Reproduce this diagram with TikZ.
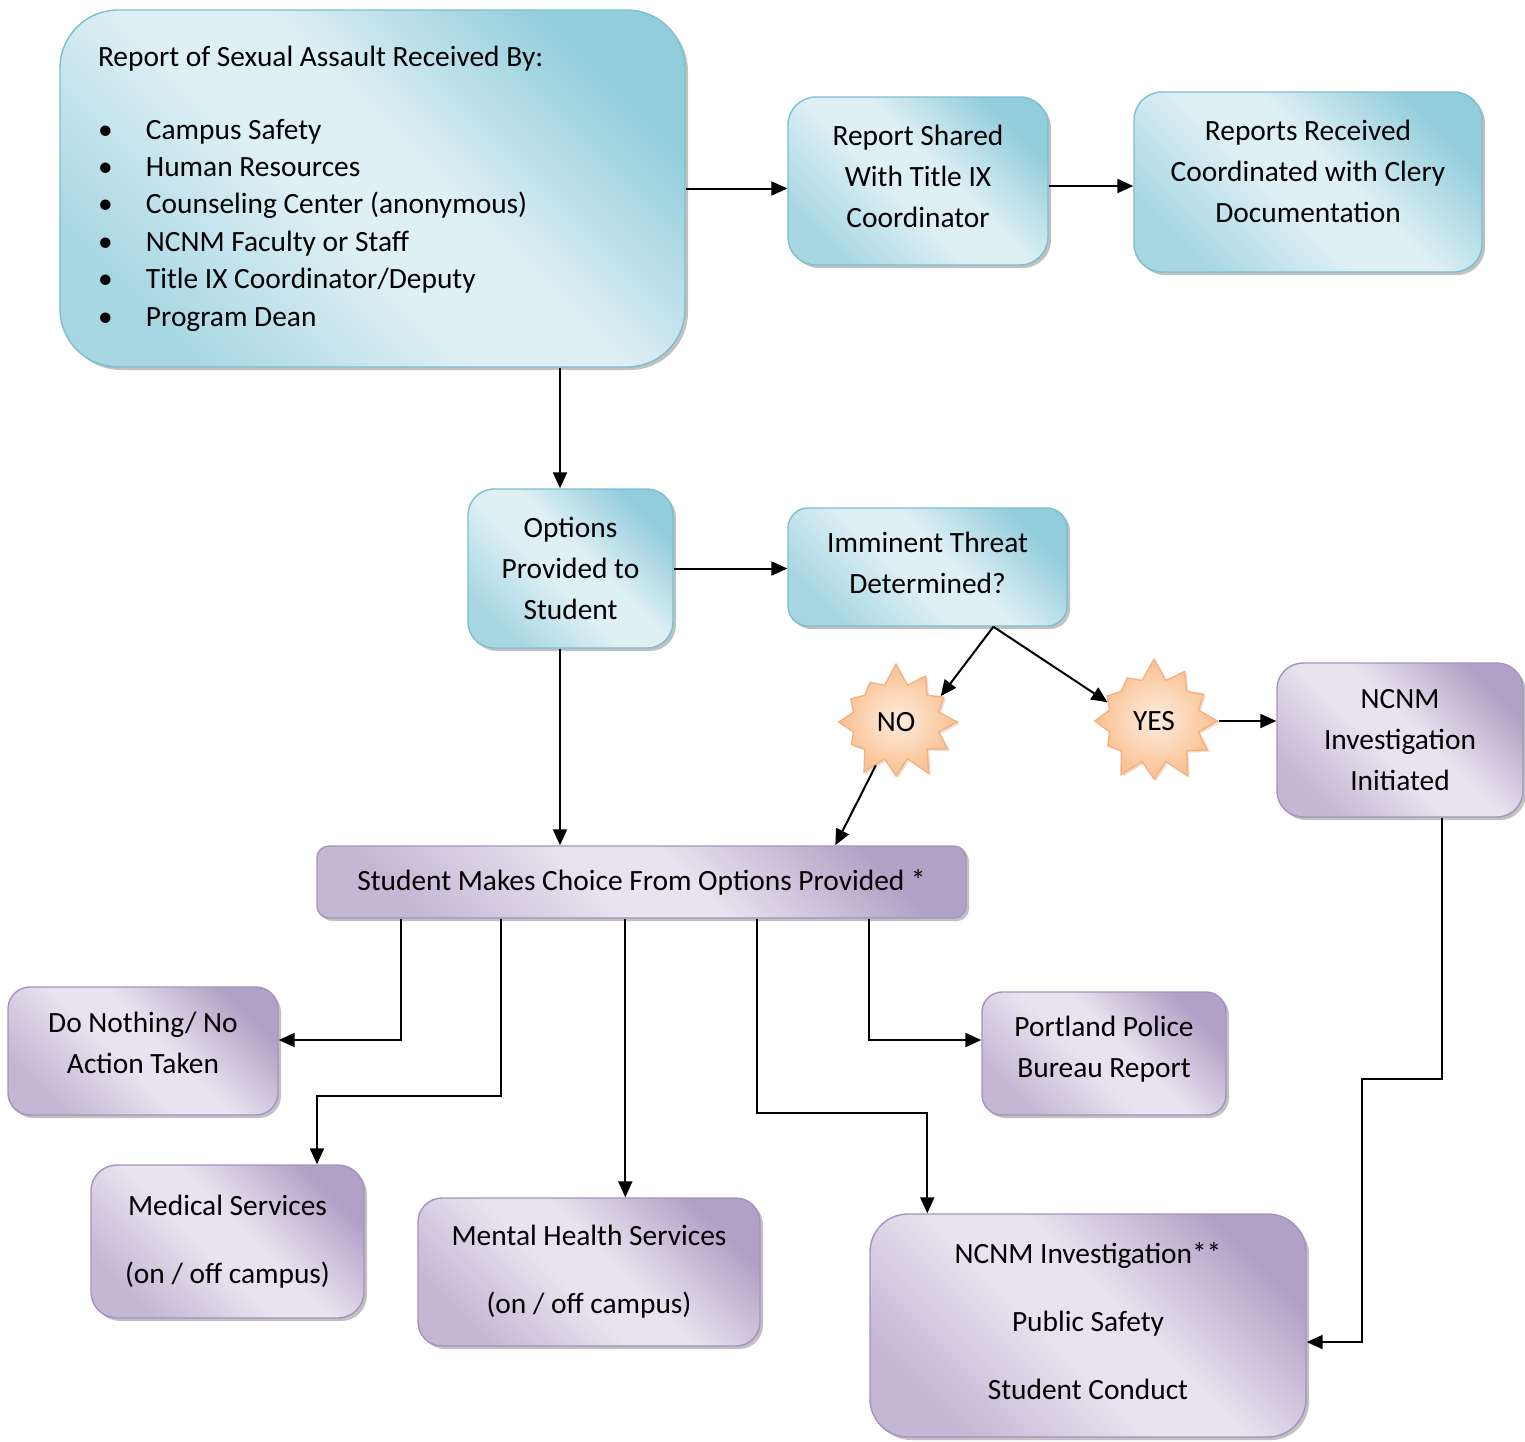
\documentclass[tikz,border=0pt]{standalone}
\usepackage{fontspec}
\setmainfont{Carlito}
\usetikzlibrary{arrows.meta,shapes.symbols,shadows,calc}

\definecolor{bluedark}{RGB}{146,205,220}
\definecolor{bluemid}{RGB}{168,215,228}
\definecolor{bluelight}{RGB}{223,240,245}
\definecolor{blueline}{RGB}{125,190,207}
\definecolor{purpledark}{RGB}{178,161,199}
\definecolor{purplemid}{RGB}{196,183,213}
\definecolor{purplelight}{RGB}{232,227,239}
\definecolor{purpleline}{RGB}{165,146,190}
\definecolor{peachdark}{RGB}{250,192,144}
\definecolor{peachlight}{RGB}{253,236,222}
\definecolor{peachline}{RGB}{244,177,131}

\pgfdeclarehorizontalshading{blueglass}{100bp}{color(0bp)=(bluemid); color(25bp)=(bluemid); color(45bp)=(bluelight); color(55bp)=(bluelight); color(75bp)=(bluedark); color(100bp)=(bluedark)}
\pgfdeclarehorizontalshading{purpleglass}{100bp}{color(0bp)=(purplemid); color(25bp)=(purplemid); color(45bp)=(purplelight); color(55bp)=(purplelight); color(75bp)=(purpledark); color(100bp)=(purpledark)}

\begin{document}
\begin{tikzpicture}[x=0.5pt, y=-0.5pt, >={Triangle[length=8pt,width=7pt]},
  font=\fontsize{14.7}{20.5}\selectfont]
	\tikzstyle{box} = [draw, line width=0.7pt, align=center, inner sep=0pt, shading angle=45,
	  drop shadow={shadow xshift=1.5pt, shadow yshift=-1.5pt, opacity=0.35, fill=black!70}]
	\tikzstyle{bluebox} = [box, draw=blueline, shading=blueglass]
	\tikzstyle{purplebox} = [box, draw=purpleline, shading=purpleglass]
	\tikzstyle{burst} = [starburst, starburst points=12, starburst point height=11pt, random starburst=7,
	  draw=peachline, line width=0.7pt, inner color=peachlight, outer color=peachdark, inner sep=0pt,
	  drop shadow={shadow xshift=1pt, shadow yshift=-1pt, opacity=0.3, fill=peachline!80!black}]
	\tikzstyle{link} = [->, line width=1pt]

	\useasboundingbox (0,0) rectangle (1525,1441);

	% top row
	\node[bluebox, rounded corners=29pt, text width=274.5pt, align=flush left, inner xsep=19pt,
	  minimum height=178.5pt, font=\fontsize{14.7}{18.7}\selectfont] (report) at (372.5,188.5)
	  {Report of Sexual Assault Received By:\\[17.8pt]
	   \makebox[24pt][l]{\textbullet}Campus Safety\\
	   \makebox[24pt][l]{\textbullet}Human Resources\\
	   \makebox[24pt][l]{\textbullet}Counseling Center (anonymous)\\
	   \makebox[24pt][l]{\textbullet}NCNM Faculty or Staff\\
	   \makebox[24pt][l]{\textbullet}Title IX Coordinator/Deputy\\
	   \makebox[24pt][l]{\textbullet}Program Dean};
	\node[bluebox, rounded corners=14pt, minimum width=130pt, minimum height=84pt, text depth=5pt] (shared) at (918,181)
	  {Report Shared\\With Title IX\\Coordinator};
	\node[bluebox, rounded corners=14pt, minimum width=174pt, minimum height=90pt, text depth=11pt] (clery) at (1308,182)
	  {Reports Received\\Coordinated with Clery\\Documentation};

	% middle
	\node[bluebox, rounded corners=13pt, minimum width=102.5pt, minimum height=79.5pt] (options) at (570.5,568.5)
	  {Options\\Provided to\\Student};
	\node[bluebox, rounded corners=10pt, minimum width=139.5pt, minimum height=59pt, text depth=4.5pt] (threat) at (927.5,567)
	  {Imminent Threat\\Determined?};
	\node[burst, minimum width=66pt, minimum height=60pt] (no) at (896,722) {NO};
	\node[burst, minimum width=68pt, minimum height=64pt] (yes) at (1154,721) {YES};
	\node[purplebox, rounded corners=13pt, minimum width=123pt, minimum height=77pt] (init) at (1400,740)
	  {NCNM\\Investigation\\Initiated};
	\node[purplebox, rounded corners=6pt, minimum width=324.5pt, minimum height=36pt] (choice) at (641.5,882)
	  {Student Makes Choice From Options Provided *};

	% outcomes
	\node[purplebox, rounded corners=11pt, minimum width=135pt, minimum height=64pt, text depth=8pt] (nothing) at (143,1051)
	  {Do Nothing/ No\\Action Taken};
	\node[purplebox, rounded corners=10pt, minimum width=122pt, minimum height=61.5pt, text depth=7pt] (police) at (1104,1053.5)
	  {Portland Police\\Bureau Report};
	\node[purplebox, rounded corners=13pt, minimum width=136.5pt, minimum height=76.5pt] (medical) at (227.5,1241.5)
	  {Medical Services\\[13.5pt](on / off campus)};
	\node[purplebox, rounded corners=12pt, minimum width=171pt, minimum height=74pt] (mental) at (589,1272)
	  {Mental Health Services\\[13.5pt](on / off campus)};
	\node[purplebox, rounded corners=19pt, minimum width=218pt, minimum height=111.5pt, text depth=4pt] (inv) at (1088,1325.5)
	  {NCNM Investigation**\\[13.5pt]Public Safety\\[13.5pt]Student Conduct};

	% connector ends
	\coordinate (fork) at ($(threat.south west)!0.735!(threat.south east)$);
	\coordinate (nohit) at ($(choice.north west)!0.798!(choice.north east)$);
	\coordinate (c1) at ([xshift=42.5pt]choice.south west);
	\coordinate (c2) at ([xshift=92.5pt]choice.south west);
	\coordinate (c3) at ([xshift=154.5pt]choice.south west);
	\coordinate (c4) at ([xshift=220.5pt]choice.south west);
	\coordinate (c5) at ([xshift=276.5pt]choice.south west);

	\path[link]
	(report.east) edge (report.east -| shared.west)
	([yshift=-2.5pt]shared.east) edge ([yshift=-2.5pt]shared.east -| clery.west)
	([xshift=-5.25pt]options.north |- report.south) edge ([xshift=-5.25pt]options.north)
	(options.east) edge (options.east -| threat.west)
	([xshift=-5.25pt]options.south) edge ([xshift=-5.25pt]options.south |- choice.north)
	(fork) edge (no.30)
	(fork) edge (yes.158)
	(yes.east) edge (yes.east -| init.west)
	(no.245) edge (nohit)
	(c3) edge (c3 |- mental.north)
	;

	\draw[link] (c1) |- ([yshift=5.5pt]nothing.east);
	\draw[link] (c2) -- ++(0,-88.5pt) -| ([xshift=44.75pt]medical.north);
	\draw[link] (c4) -- ++(0,-97pt) -| ([xshift=29pt]inv.north west);
	\draw[link] (c5) |- ([yshift=6.75pt]police.west);
	\draw[link] ([xshift=21pt]init.south) -- ++(0,-130.5pt) -- ++(-40pt,0) |- ([yshift=-8.25pt]inv.east);
\end{tikzpicture}
\end{document}
